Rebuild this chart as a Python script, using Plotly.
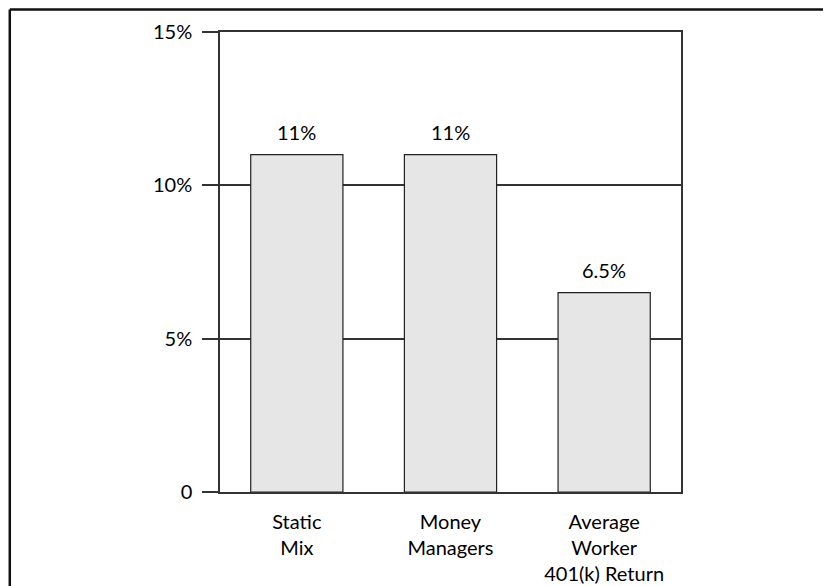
import plotly.graph_objects as go

categories = ["Static<br>Mix", "Money<br>Managers", "Average<br>Worker<br>401(k) Return"]
returns = [11, 11, 6.5]
bar_labels = ["11%", "11%", "6.5%"]
y_tickvals = [0, 5, 10, 15]
y_ticktext = ["0", "5%", "10%", "15%"]

LINE = "#333333"
FONT = dict(family="Lato", size=20, color="black")

fig = go.Figure()
fig.add_trace(go.Bar(
    x=categories, y=returns,
    width=0.6,
    marker=dict(color="#e6e6e6", line=dict(color="#222222", width=1.2)),
    hoverinfo="skip",
))

for cat, val, lab in zip(categories, returns, bar_labels):
    fig.add_annotation(x=cat, y=val, text=lab, showarrow=False,
                       yanchor="bottom", yshift=9, font=FONT)

# outer frame (top and left edges only)
frame = dict(type="line", xref="paper", yref="paper", line=dict(color="#111111", width=2.5))
fig.add_shape(x0=-0.456, x1=1.4, y0=1.049, y1=1.049, **frame)
fig.add_shape(x0=-0.456, x1=-0.456, y0=-0.3, y1=1.049, **frame)

fig.update_layout(
    width=831, height=586,
    margin=dict(l=212, r=158, t=24, b=102),
    plot_bgcolor="white", paper_bgcolor="white",
    font=FONT,
    showlegend=False,
)
fig.update_xaxes(
    range=[-0.5, 2.5], automargin=False,
    showline=True, mirror=True, linecolor=LINE, linewidth=1.5,
    showgrid=False, ticks="", ticklabelstandoff=11,
)
fig.update_yaxes(
    range=[0, 15], automargin=False,
    tickvals=y_tickvals, ticktext=y_ticktext,
    ticks="outside", ticklen=16, tickcolor=LINE, tickwidth=1.5,
    showgrid=True, gridcolor=LINE, gridwidth=1.5,
    zeroline=False,
    showline=True, mirror=True, linecolor=LINE, linewidth=1.5,
    ticklabelstandoff=6,
)

fig.write_html("out.html")
